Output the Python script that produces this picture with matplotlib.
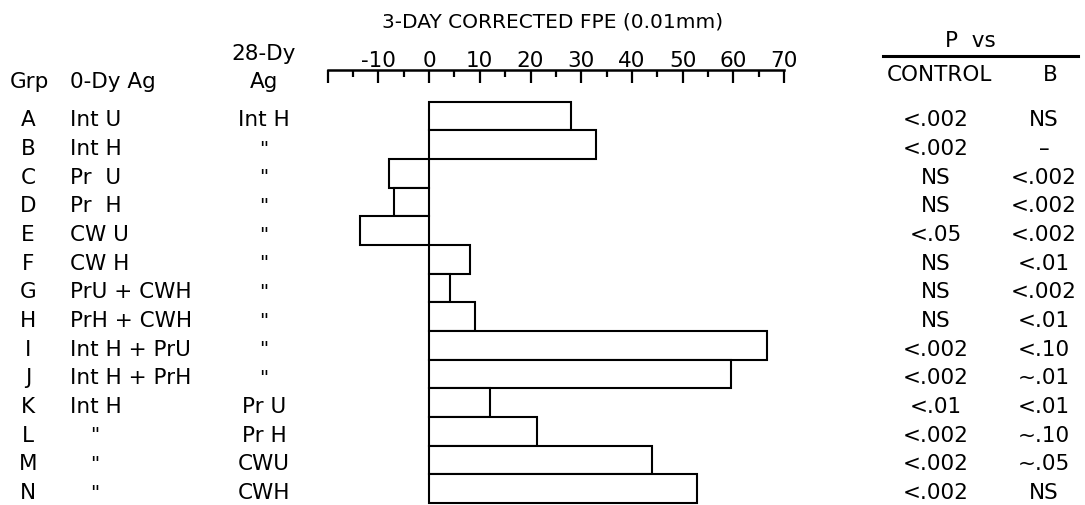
import matplotlib
matplotlib.use("Agg")
import matplotlib.pyplot as plt
import matplotlib.transforms as mtransforms
from matplotlib.ticker import MultipleLocator

plt.rcParams['font.family'] = ['DejaVu Sans']
plt.rcParams['axes.unicode_minus'] = False

# =====================================
#          数据
# =====================================
groups = ['A', 'B', 'C', 'D', 'E', 'F', 'G', 'H', 'I', 'J', 'K', 'L', 'M', 'N']
day0_ag = ['Int U', 'Int H', 'Pr  U', 'Pr  H', 'CW U', 'CW H', 'PrU + CWH', 'PrH + CWH',
           'Int H + PrU', 'Int H + PrH', 'Int H', '"', '"', '"']
day28_ag = ['Int H', '"', '"', '"', '"', '"', '"', '"', '"', '"',
            'Pr U', 'Pr H', 'CWU', 'CWH']
fpe = [28, 33, -8, -7, -13.7, 8.1, 4.1, 9.1, 66.7, 59.6, 12.0, 21.2, 43.9, 52.9]
p_control = ['<.002', '<.002', 'NS', 'NS', '<.05', 'NS', 'NS', 'NS',
             '<.002', '<.002', '<.01', '<.002', '<.002', '<.002']
p_b = ['NS', '–', '<.002', '<.002', '<.002', '<.01', '<.002', '<.01',
       '<.10', '~.01', '<.01', '~.10', '~.05', 'NS']

W, H = 1085, 506
FS = 15.5      # 行文字
FS_T = 14.5    # 标题


def px(x):
    return x / W


def py(y):
    return 1 - y / H


fig = plt.figure(figsize=(W / 100, H / 100), dpi=100)
ax = fig.add_axes([px(327.7), py(504), px(784) - px(327.7), py(71) - py(504)])

rows = list(range(len(groups)))
ax.barh(rows, fpe, height=1.0, color='white', edgecolor='black', linewidth=1.5, clip_on=False)

ax.set_xlim(-20, 70)
ax.set_ylim(13.5, -1.606)

for s in ['left', 'right', 'bottom']:
    ax.spines[s].set_visible(False)
ax.spines['top'].set_linewidth(1.8)
ax.set_yticks([])
ax.xaxis.set_ticks_position('top')
ax.xaxis.set_minor_locator(MultipleLocator(5))
ax.tick_params(axis='x', which='major', direction='in', length=9, width=1.6,
               labelsize=FS, pad=0, top=True, bottom=False, labeltop=True, labelbottom=False)
ax.tick_params(axis='x', which='minor', direction='in', length=5, width=1.6,
               top=True, bottom=False)
ticks = list(range(-10, 71, 10))
ax.set_xticks([-20] + ticks)
ax.set_xticklabels([''] + [str(t) for t in ticks])

# 标题
fig.text(px(553), py(22), '3-DAY CORRECTED FPE (0.01mm)', ha='center', va='center', fontsize=FS_T)

# 左侧表头
fig.text(px(29), py(82), 'Grp', ha='center', va='center', fontsize=FS)
fig.text(px(70), py(82), '0-Dy Ag', ha='left', va='center', fontsize=FS)
fig.text(px(264), py(54), '28-Dy', ha='center', va='center', fontsize=FS)
fig.text(px(264), py(82), 'Ag', ha='center', va='center', fontsize=FS)

# 右侧表头
fig.text(px(970), py(41), 'P  vs', ha='center', va='center', fontsize=FS)
fig.add_artist(plt.Line2D([px(883), px(1078)], [py(57), py(57)], color='black', linewidth=2.2))
fig.text(px(939), py(75), 'CONTROL', ha='center', va='center', fontsize=FS)
fig.text(px(1050), py(75), 'B', ha='center', va='center', fontsize=FS)

# 每行文字
tr = mtransforms.blended_transform_factory(fig.transFigure, ax.transData)
for i in rows:
    y = i + 0.12
    ax.text(px(28), y, groups[i], ha='center', va='center', fontsize=FS, transform=tr)
    if day0_ag[i] == '"':
        ax.text(px(95), y, day0_ag[i], ha='center', va='center', fontsize=FS - 1, transform=tr)
    else:
        ax.text(px(70), y, day0_ag[i], ha='left', va='center', fontsize=FS, transform=tr)
    ax.text(px(264), y, day28_ag[i], ha='center', va='center',
            fontsize=FS - 1 if day28_ag[i] == '"' else FS, transform=tr)
    ax.text(px(936), y, p_control[i], ha='center', va='center', fontsize=FS, transform=tr)
    ax.text(px(1044), y, p_b[i], ha='center', va='center', fontsize=FS, transform=tr)

fig.savefig('out.png', dpi=100)
